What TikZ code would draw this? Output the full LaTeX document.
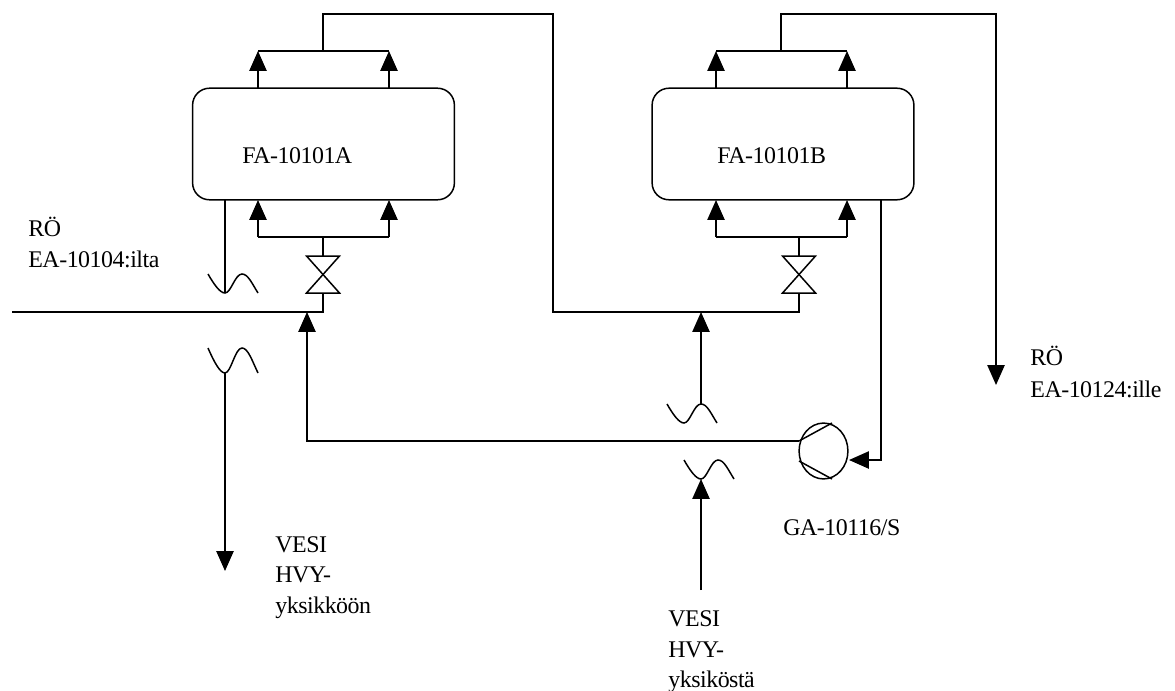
\documentclass[tikz,border=0pt]{standalone}
\usepackage{fontspec}
\setmainfont[LetterSpace=-2]{Liberation Serif}
\usetikzlibrary{arrows.meta, shapes.geometric}
\tikzset{
	pipe/.style={black, line width=0.85pt, -{Triangle[length=11.3pt, width=9.8pt]}},
	plainpipe/.style={black, line width=0.85pt},
	tank/.style={draw=black, line width=0.85pt, rounded corners=9.6pt, minimum width=149pt, minimum height=63.5pt, inner sep=0pt},
	tag/.style={anchor=base west, inner sep=0pt, font=\fontsize{13.6}{15}\selectfont},
}
\newcommand{\wavemark}[3]{\draw[plainpipe] (#1,#2) .. controls (#1+6,#2+#3*0.55) and (#1+12,#2+#3) .. (#1+17,#2+#3) .. controls (#1+23,#2+#3) and (#1+27,#2) .. (#1+34,#2) .. controls (#1+40,#2) and (#1+44,#2+#3*0.5) .. (#1+50,#2+#3);}
\newcommand{\valvemark}[2]{\draw[plainpipe] (#1-16.5,#2) -- (#1+16.5,#2) -- (#1-16.5,#2+37) -- (#1+16.5,#2+37) -- cycle;}
\begin{document}
\begin{tikzpicture}[x=0.02cm, y=-0.02cm]
	\useasboundingbox (0,0) rectangle (1175,690);

	% Vessels
	\node[tank] (tankA) at (323.5,144) {};
	\node[tank] (tankB) at (783,144) {};
	\node[tag] (labelA) at (242,163) {FA-10101A};
	\node[tag] (labelB) at (717,163) {FA-10101B};

	% Pump
	\node[draw=black, line width=0.85pt, ellipse, minimum width=27.8pt, minimum height=31.8pt, inner sep=0pt] (pump) at (823.5,451) {};
	\coordinate (pumpout) at (799,441);
	\coordinate (pumpin) at (849,460);
	\draw[plainpipe] (pumpout) -- (832,423);
	\draw[plainpipe] (799,461) -- (832,479);

	% Valves
	\valvemark{323}{256}
	\valvemark{799}{256}

	% Top of vessel A and the line over to B's feed
	\coordinate (outA1) at (258,51);
	\coordinate (outA2) at (389,51);
	\coordinate (stubA) at (323,51);
	\draw[pipe] (258,88) -- (outA1);
	\draw[pipe] (389,88) -- (outA2);
	\draw[plainpipe] (outA1) -- (outA2);
	\draw[plainpipe] (stubA) -- (323,14) -- (553,14) -- (553,312) -- (799,312) -- (799,293);

	% Top of vessel B and the line out
	\coordinate (outB1) at (716,51);
	\coordinate (outB2) at (847,51);
	\coordinate (stubB) at (781,51);
	\coordinate (endB) at (996,385);
	\draw[pipe] (716,88) -- (outB1);
	\draw[pipe] (847,88) -- (outB2);
	\draw[plainpipe] (outB1) -- (outB2);
	\draw[pipe] (stubB) -- (781,14) -- (996,14) -- (endB);

	% Feeds below the vessels
	\draw[plainpipe] (258,237) -- (389,237);
	\draw[pipe] (258,237) -- (258,200);
	\draw[pipe] (389,237) -- (389,200);
	\draw[plainpipe] (323,237) -- (323,256);
	\draw[plainpipe] (716,237) -- (847,237);
	\draw[pipe] (716,237) -- (716,200);
	\draw[pipe] (847,237) -- (847,200);
	\draw[plainpipe] (799,237) -- (799,256);

	% Inlet from the left
	\draw[plainpipe] (12,312) -- (323,312) -- (323,293);

	% Water lines
	\draw[plainpipe] (225,200) -- (225,293);
	\draw[pipe] (225,373) -- (225,571);
	\draw[pipe] (701,404) -- (701,312);
	\draw[pipe] (701,590) -- (701,479);
	\wavemark{208}{274}{19}
	\wavemark{208}{348}{25}
	\wavemark{667}{404}{19}
	\wavemark{684}{460}{19}

	% Pump circuit
	\draw[pipe] (pumpout) -- (307,441) -- (307,312);
	\draw[pipe] (881,200) -- (881,460) -- (pumpin);

	% Stream labels
	\node[tag] (roA) at (28,236) {RÖ};
	\node[tag] (eaA) at (28,267) {EA-10104:ilta};
	\node[tag] (roB) at (1030,365) {RÖ};
	\node[tag] (eaB) at (1030,397) {EA-10124:ille};
	\node[tag] (pumplabel) at (783,535) {GA-10116/S};
	\node[tag] (vesiA) at (275,552) {VESI};
	\node[tag] (hvyA) at (275,582) {HVY-};
	\node[tag] (yksA) at (275,613) {yksikköön};
	\node[tag] (vesiB) at (668,626) {VESI};
	\node[tag] (hvyB) at (668,657) {HVY-};
	\node[tag] (yksB) at (668,687) {yksiköstä};
\end{tikzpicture}
\end{document}
